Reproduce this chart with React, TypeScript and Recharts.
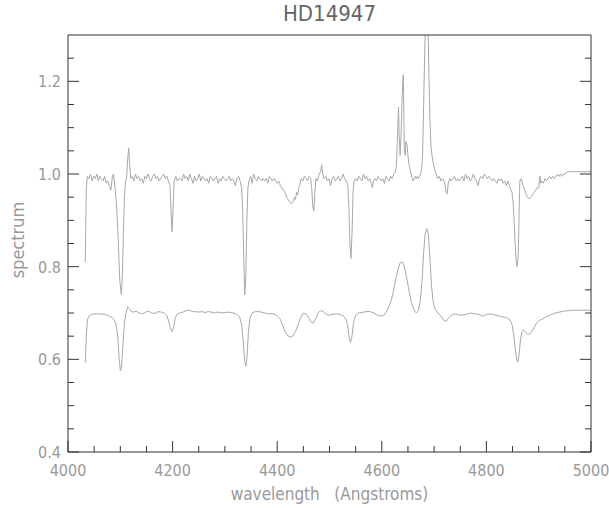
import { Line, LineChart, XAxis, YAxis } from 'recharts';

// observed spectrum, wavelength in Angstroms
const obsWave = [
  4033, 4035, 4037, 4040, 4043, 4046, 4049, 4052, 4055, 4058, 4061, 4064, 4067, 4070, 4073, 4076, 4079, 4082, 4085, 4087,
  4090, 4093, 4096, 4099, 4102, 4104, 4106, 4108, 4110, 4112, 4114, 4116, 4118, 4120, 4123, 4126, 4129, 4132, 4135, 4138,
  4141, 4144, 4147, 4150, 4153, 4156, 4159, 4162, 4165, 4168, 4171, 4174, 4177, 4180, 4183, 4186, 4189, 4192, 4195, 4197,
  4199, 4201, 4203, 4206, 4209, 4212, 4215, 4218, 4221, 4224, 4227, 4230, 4233, 4236, 4239, 4242, 4245, 4248, 4251, 4254,
  4257, 4260, 4263, 4266, 4269, 4272, 4275, 4278, 4281, 4284, 4287, 4290, 4293, 4296, 4299, 4302, 4305, 4308, 4311, 4314,
  4317, 4320, 4323, 4326, 4329, 4332, 4334, 4336, 4338, 4340, 4342, 4344, 4346, 4349, 4352, 4355, 4358, 4361, 4364, 4367,
  4370, 4373, 4376, 4379, 4382, 4385, 4388, 4391, 4394, 4397, 4400, 4403, 4406, 4409, 4412, 4415, 4418, 4421, 4424, 4427,
  4430, 4433, 4435, 4437, 4439, 4441, 4443, 4446, 4449, 4452, 4455, 4458, 4461, 4464, 4466, 4468, 4470, 4472, 4474, 4477,
  4480, 4483, 4485, 4487, 4490, 4493, 4496, 4499, 4502, 4505, 4508, 4511, 4514, 4517, 4520, 4523, 4526, 4529, 4532, 4535,
  4537, 4539, 4541, 4543, 4545, 4547, 4550, 4553, 4556, 4559, 4562, 4565, 4568, 4571, 4574, 4577, 4580, 4582, 4584, 4587,
  4590, 4593, 4596, 4599, 4602, 4605, 4608, 4611, 4614, 4617, 4620, 4623, 4626, 4628, 4630, 4632, 4633, 4635, 4637, 4639,
  4641, 4642, 4643, 4645, 4646, 4648, 4650, 4652, 4654, 4656, 4658, 4660, 4662, 4664, 4666, 4668, 4670, 4672, 4674, 4676,
  4678, 4680, 4682, 4684, 4686, 4688, 4690, 4692, 4694, 4696, 4698, 4701, 4704, 4707, 4710, 4713, 4716, 4719, 4721, 4723,
  4725, 4727, 4730, 4733, 4736, 4739, 4742, 4745, 4748, 4751, 4754, 4757, 4760, 4763, 4766, 4769, 4772, 4775, 4778, 4781,
  4784, 4787, 4790, 4793, 4796, 4799, 4802, 4805, 4808, 4811, 4814, 4817, 4820, 4823, 4826, 4829, 4832, 4835, 4838, 4841,
  4844, 4847, 4849, 4851, 4853, 4855, 4857, 4859, 4861, 4863, 4864, 4866, 4868, 4870, 4873, 4876, 4879, 4882, 4885, 4888,
  4891, 4894, 4897, 4900, 4902, 4904, 4906, 4909, 4912, 4915, 4918, 4921, 4924, 4927, 4930, 4933, 4936, 4939, 4942, 4945,
  4948, 4951, 4955, 4960, 4970, 4980, 4990, 5000,
];
const obsFlux = [
  0.81, 0.97, 0.995, 0.99, 1.0, 0.985, 0.995, 0.99, 1.0, 0.985, 0.995, 0.99, 0.985, 0.995, 0.98, 0.985, 0.975, 0.965, 0.995, 1.0,
  0.97, 0.93, 0.86, 0.77, 0.74, 0.78, 0.88, 0.95, 0.985, 0.99, 1.03, 1.056, 1.02, 0.99, 0.995, 0.985, 1.0, 0.99, 0.995, 0.985,
  0.99, 0.98, 0.995, 0.99, 1.0, 0.99, 0.985, 0.995, 1.0, 0.99, 0.995, 0.985, 0.99, 0.995, 1.0, 0.99, 0.995, 0.985, 0.975, 0.92,
  0.875, 0.93, 0.985, 0.995, 0.985, 0.99, 0.99, 0.985, 1.0, 0.99, 0.995, 0.985, 1.0, 0.99, 0.98, 0.995, 0.985, 0.99, 1.0, 0.985,
  0.995, 0.99, 0.985, 0.99, 0.98, 0.995, 0.99, 0.985, 0.99, 0.995, 0.98, 0.99, 0.985, 0.995, 0.99, 0.985, 0.99, 0.995, 0.985, 0.99,
  0.985, 0.975, 0.99, 0.995, 0.985, 0.97, 0.92, 0.82, 0.739, 0.78, 0.9, 0.97, 0.985, 0.995, 0.98, 1.0, 0.99, 0.985, 0.995, 0.99,
  0.985, 0.99, 0.985, 0.99, 0.98, 0.995, 0.99, 0.985, 0.99, 0.985, 0.98, 0.985, 0.975, 0.97, 0.965, 0.96, 0.95, 0.945, 0.94, 0.936,
  0.94, 0.95, 0.945, 0.96, 0.955, 0.97, 0.975, 0.99, 0.985, 0.995, 0.99, 0.985, 0.995, 0.99, 0.97, 0.93, 0.92, 0.96, 0.99, 0.985,
  1.0, 1.005, 1.02, 1.0, 0.99, 0.995, 0.985, 0.99, 0.975, 0.99, 0.995, 0.985, 0.99, 0.995, 0.985, 0.99, 1.0, 0.99, 0.985, 0.975,
  0.93, 0.85, 0.818, 0.87, 0.96, 0.985, 0.99, 0.985, 0.995, 0.99, 0.985, 1.0, 0.99, 0.995, 0.985, 0.99, 0.98, 0.97, 0.985, 0.99,
  0.985, 0.995, 0.99, 0.985, 0.99, 0.98, 0.995, 0.99, 0.985, 0.995, 0.99, 1.0, 1.005, 1.02, 1.08, 1.144, 1.09, 1.04, 1.09, 1.17,
  1.214, 1.15, 1.05, 1.04, 1.07, 1.065, 1.04, 1.02, 1.01, 1.0, 0.99, 0.985, 0.99, 0.995, 0.99, 0.995, 0.99, 0.995, 1.0, 1.01,
  1.04, 1.15, 1.26, 1.36, 1.4, 1.34, 1.22, 1.12, 1.06, 1.04, 1.025, 1.01, 1.0, 0.99, 0.995, 0.985, 0.99, 0.985, 0.975, 0.96,
  0.957, 0.98, 0.99, 0.985, 0.99, 0.995, 0.985, 0.99, 0.985, 0.99, 0.995, 0.985, 1.0, 0.99, 0.995, 0.985, 0.99, 1.0, 0.99, 0.985,
  0.975, 0.99, 0.995, 0.99, 1.0, 0.995, 0.99, 0.995, 0.99, 0.985, 0.99, 0.985, 0.98, 0.99, 0.985, 0.99, 0.98, 0.985, 0.975, 0.985,
  0.975, 0.965, 0.96, 0.94, 0.9, 0.85, 0.81, 0.8, 0.83, 0.94, 0.985, 0.99, 0.985, 0.975, 0.965, 0.955, 0.95, 0.946, 0.95, 0.955,
  0.96, 0.965, 0.97, 0.97, 0.995, 0.98, 0.985, 0.98, 0.99, 0.985, 0.99, 0.995, 0.99, 0.995, 0.99, 0.995, 1.0, 0.995, 1.0, 0.995,
  1.0, 1.0, 1.005, 1.005, 1.005, 1.005, 1.005, 1.005,
];

// model spectrum, shifted down
const modWave = [
  4033, 4035, 4037, 4040, 4045, 4050, 4060, 4070, 4078, 4084, 4088, 4092, 4095, 4098, 4100, 4102, 4105, 4108, 4111, 4114,
  4117, 4121, 4126, 4130, 4136, 4142, 4148, 4154, 4160, 4166, 4172, 4178, 4184, 4189, 4193, 4196, 4199, 4202, 4205, 4209,
  4214, 4220, 4226, 4232, 4238, 4244, 4250, 4256, 4262, 4268, 4274, 4280, 4286, 4292, 4298, 4304, 4310, 4316, 4322, 4328,
  4332, 4335, 4338, 4340, 4342, 4345, 4348, 4352, 4358, 4364, 4370, 4376, 4382, 4388, 4394, 4400, 4405, 4410, 4415, 4420,
  4425, 4430, 4435, 4440, 4445, 4450, 4455, 4460, 4465, 4469, 4473, 4478, 4483, 4488, 4493, 4498, 4505, 4512, 4520, 4527,
  4532, 4535, 4538, 4540, 4543, 4546, 4550, 4555, 4562, 4570, 4578, 4585, 4592, 4598, 4604, 4610, 4616, 4621, 4626, 4631,
  4635, 4639, 4642, 4646, 4651, 4656, 4661, 4666, 4670, 4674, 4677, 4680, 4683, 4686, 4689, 4692, 4695, 4698, 4702, 4707,
  4712, 4718, 4723, 4728, 4733, 4739, 4745, 4752, 4760, 4770, 4778, 4786, 4793, 4800, 4808, 4815, 4822, 4830, 4838, 4845,
  4849, 4852, 4855, 4858, 4860, 4862, 4865, 4868, 4871, 4875, 4879, 4883, 4887, 4891, 4896, 4901, 4906, 4912, 4918, 4925,
  4932, 4940, 4948, 4956, 4965, 4980, 5000,
];
const modFlux = [
  0.593, 0.65, 0.685, 0.693, 0.697, 0.698, 0.698, 0.697, 0.694, 0.69, 0.686, 0.675, 0.65, 0.6, 0.575, 0.58, 0.63, 0.68, 0.7, 0.713,
  0.71, 0.703, 0.702, 0.704, 0.7, 0.698, 0.702, 0.704, 0.7, 0.699, 0.703, 0.702, 0.7, 0.695, 0.68, 0.665, 0.66, 0.67, 0.69, 0.698,
  0.7, 0.702, 0.705, 0.706, 0.703, 0.703, 0.702, 0.703, 0.701, 0.703, 0.702, 0.7, 0.702, 0.701, 0.7, 0.702, 0.701, 0.7, 0.698, 0.692,
  0.675, 0.64, 0.595, 0.585, 0.6, 0.66, 0.69, 0.7, 0.703, 0.703, 0.702, 0.7, 0.698, 0.699, 0.698, 0.694, 0.688, 0.675, 0.66, 0.651,
  0.648, 0.65, 0.66, 0.675, 0.69, 0.7, 0.698, 0.69, 0.68, 0.678, 0.685, 0.7, 0.705, 0.703, 0.698, 0.695, 0.697, 0.698, 0.697, 0.693,
  0.685, 0.67, 0.645, 0.636, 0.65, 0.68, 0.695, 0.7, 0.701, 0.703, 0.703, 0.7, 0.695, 0.693, 0.695, 0.705, 0.72, 0.74, 0.77, 0.795,
  0.808, 0.81, 0.805, 0.785, 0.755, 0.725, 0.708, 0.7, 0.705, 0.73, 0.77, 0.83, 0.872, 0.882, 0.87, 0.82, 0.76, 0.725, 0.708, 0.7,
  0.695, 0.685, 0.682, 0.69, 0.695, 0.698, 0.697, 0.695, 0.697, 0.7, 0.698, 0.697, 0.693, 0.697, 0.698, 0.696, 0.694, 0.692, 0.69, 0.685,
  0.675, 0.655, 0.625, 0.598, 0.594, 0.605, 0.64, 0.66, 0.664, 0.658, 0.654, 0.655, 0.66, 0.668, 0.678, 0.684, 0.686, 0.69, 0.694, 0.697,
  0.7, 0.702, 0.704, 0.705, 0.706, 0.706, 0.706,
];

const xTicks = [
  4000, 4050, 4100, 4150, 4200, 4250, 4300, 4350, 4400, 4450, 4500,
  4550, 4600, 4650, 4700, 4750, 4800, 4850, 4900, 4950, 5000,
];
const xLabels = [4000, 4200, 4400, 4600, 4800, 5000];
const yTicks = [
  0.4, 0.45, 0.5, 0.55, 0.6, 0.65, 0.7, 0.75, 0.8, 0.85, 0.9, 0.95, 1.0, 1.05, 1.1, 1.15, 1.2, 1.25,
];
const yLabels = ['0.4', '0.6', '0.8', '1.0', '1.2'];

const obsData = obsWave.map((w, i) => ({ w, v: obsFlux[i] }));
const modData = modWave.map((w, i) => ({ w, v: modFlux[i] }));

const FONT = '"DejaVu Sans Condensed", "Liberation Sans", sans-serif';
const FRAME = '#333';
const TEXT = '#999';
const LINE = '#a8a8a8';

const isMajorX = (v: number) => xLabels.includes(v);
const isMajorY = (v: number) => Math.abs(v * 10 - Math.round(v * 10)) < 1e-6 && yLabels.includes(v.toFixed(1));

function BottomTick({ x, y, payload }: any) {
  const major = isMajorX(payload.value);
  return (
    <g>
      <line x1={x} y1={y} x2={x} y2={y - (major ? 11 : 6)} stroke={FRAME} />
      {major && (
        <text x={x} y={y + 24} textAnchor="middle" fill={TEXT} fontSize={16} fontFamily={FONT}>
          {payload.value}
        </text>
      )}
    </g>
  );
}

function TopTick({ x, y, payload }: any) {
  const major = isMajorX(payload.value);
  return <line x1={x} y1={y} x2={x} y2={y + (major ? 11 : 6)} stroke={FRAME} />;
}

function LeftTick({ x, y, payload }: any) {
  const major = isMajorY(payload.value);
  return (
    <g>
      <line x1={x} y1={y} x2={x + (major ? 11 : 6)} y2={y} stroke={FRAME} />
      {major && (
        <text x={x - 7} y={y + 6} textAnchor="end" fill={TEXT} fontSize={16} fontFamily={FONT}>
          {payload.value.toFixed(1)}
        </text>
      )}
    </g>
  );
}

function RightTick({ x, y, payload }: any) {
  const major = isMajorY(payload.value);
  return <line x1={x} y1={y} x2={x - (major ? 11 : 6)} y2={y} stroke={FRAME} />;
}

export default function App() {
  return (
    <div style={{ position: 'absolute', left: 0, top: 0, width: 609, height: 508, background: '#fff', fontFamily: FONT }}>
      <div style={{ position: 'absolute', left: 68, top: 2, width: 523, textAlign: 'center', fontSize: 22, lineHeight: '24px', color: '#666' }}>
        HD14947
      </div>
      <div style={{ position: 'absolute', left: 68, top: 485, width: 523, textAlign: 'center', fontSize: 17, lineHeight: '18px', color: TEXT, whiteSpace: 'pre' }}>
        {'wavelength   (Angstroms)'}
      </div>
      <div
        style={{
          position: 'absolute', left: -32, top: 231, width: 100, textAlign: 'center', fontSize: 18,
          lineHeight: '18px', color: TEXT, transform: 'rotate(-90deg)',
        }}
      >
        spectrum
      </div>
      <LineChart width={609} height={508} margin={{ top: 34, right: 17, bottom: 55, left: 67 }}>
        <XAxis
          xAxisId="b" dataKey="w" type="number" domain={[4000, 5000]} allowDataOverflow ticks={xTicks} interval={0}
          height={1} tickSize={0} tickMargin={0} tickLine={false} axisLine={{ stroke: FRAME }} tick={<BottomTick />}
        />
        <XAxis
          xAxisId="t" orientation="top" type="number" domain={[4000, 5000]} allowDataOverflow ticks={xTicks} interval={0}
          height={1} tickSize={0} tickMargin={0} tickLine={false} axisLine={{ stroke: FRAME }} tick={<TopTick />}
        />
        <YAxis
          yAxisId="l" type="number" domain={[0.4, 1.3]} allowDataOverflow ticks={yTicks} interval={0}
          width={1} tickSize={0} tickMargin={0} tickLine={false} axisLine={{ stroke: FRAME }} tick={<LeftTick />}
        />
        <YAxis
          yAxisId="r" orientation="right" type="number" domain={[0.4, 1.3]} allowDataOverflow ticks={yTicks} interval={0}
          width={1} tickSize={0} tickMargin={0} tickLine={false} axisLine={{ stroke: FRAME }} tick={<RightTick />}
        />
        <Line xAxisId="b" yAxisId="l" data={obsData} dataKey="v" type="linear" stroke={LINE} strokeWidth={1} dot={false} isAnimationActive={false} />
        <Line xAxisId="b" yAxisId="l" data={modData} dataKey="v" type="linear" stroke={LINE} strokeWidth={1} dot={false} isAnimationActive={false} />
      </LineChart>
    </div>
  );
}
